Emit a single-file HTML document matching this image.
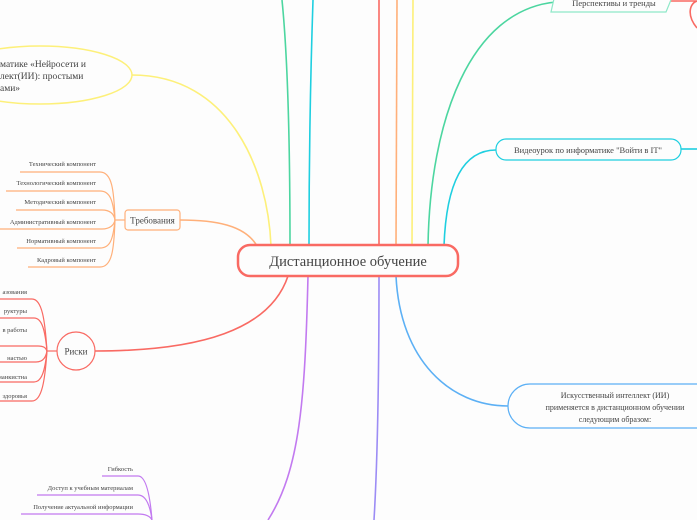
<!DOCTYPE html>
<html><head><meta charset="utf-8"><style>
html,body{margin:0;padding:0;background:#fdfdfd;}
svg{display:block;}
text{font-family:"Liberation Serif","DejaVu Serif",serif;fill:#444;}
</style></head><body>
<svg width="697" height="520" viewBox="0 0 697 520" xmlns="http://www.w3.org/2000/svg">
<rect width="697" height="520" fill="#fdfdfd"/>
<g fill="none" stroke-width="1.6">
<!-- up lines -->
<path d="M290 246 C290 150 288 60 282 0" stroke="#4cd6a0"/>
<path d="M309 246 C309 150 311 60 313 0" stroke="#1fcfe0"/>
<path d="M379 246 L379 0" stroke="#f96a63"/>
<path d="M396 246 C396 150 396 60 397 0" stroke="#ffb07a"/>
<path d="M412 246 C412 150 412 60 413 0" stroke="#fdf07a"/>
<path d="M428 246 C430 120 470 10 556 2" stroke="#4cd6a0"/>
<path d="M444 246 C446 190 460 150 496 150" stroke="#1fcfe0"/>
<path d="M681 149 L697 149" stroke="#1fcfe0"/>
<path d="M668 1 L697 1 M697 1 C690 3 686 15 697 28" stroke="#f96a63"/>
<!-- yellow -->
<path d="M271 246 C268 170 230 75 132 75" stroke="#fdf07a"/>
<!-- orange -->
<path d="M257 246 C245 225 215 220 180 220" stroke="#ffb07a"/>
<g stroke="#ffb07a" stroke-width="1.2">
<path d="M125 220 L115 220"/>
<path d="M20 172 L100 172 C112 172 114 190 115 220"/>
<path d="M6 191 L100 191 C110 191 113 200 115 220"/>
<path d="M16 210 L102 210 C110 210 114 214 115 220"/>
<path d="M0 229 L102 229 C110 229 114 225 115 220"/>
<path d="M17 248 L100 248 C110 248 113 240 115 220"/>
<path d="M28 267 L100 267 C112 267 114 250 115 220"/>
</g>
<!-- red risks -->
<path d="M288 276 C270 330 200 351 95 351" stroke="#f96a63"/>
<g stroke="#f96a63" stroke-width="1.2">
<path d="M57 351 L47 351"/>
<path d="M0 299 L32 299 C42 299 45 320 47 351"/>
<path d="M0 318 L34 318 C42 318 45 330 47 351"/>
<path d="M0 346 L38 346 C44 346 46 348 47 351"/>
<path d="M0 362 L36 362 C44 362 46 356 47 351"/>
<path d="M0 382 L34 382 C42 382 45 370 47 351"/>
<path d="M0 401 L32 401 C42 401 45 380 47 351"/>
</g>
<!-- purple -->
<path d="M308 276 C305 400 300 470 268 520" stroke="#c27af0"/>
<g stroke="#c27af0" stroke-width="1.2">
<path d="M102 476 L138 476 C146 476 150 495 152 520"/>
<path d="M37 495 L138 495 C146 495 150 505 152 520"/>
<path d="M21 514 L138 514 C146 514 150 516 152 520"/>
</g>
<path d="M379 276 C379 400 377 470 374 520" stroke="#9c8cf5"/>
<!-- blue -->
<path d="M396 276 C400 360 450 406 508 406" stroke="#5cb0f5"/>
</g>
<!-- nodes -->
<ellipse cx="40" cy="75" rx="92" ry="29" fill="#fdfdfd" stroke="#fdf07a" stroke-width="1.5"/>
<text x="0" y="67" font-size="9.5">матике «Нейросети и</text>
<text x="0" y="79" font-size="9.5">лект(ИИ): простыми</text>
<text x="0" y="91" font-size="9.5">ами»</text>

<rect x="125" y="210" width="55" height="20" rx="3" fill="#fdfdfd" stroke="#ffb07a" stroke-width="1.2"/>
<text x="152.5" y="223.5" font-size="9" text-anchor="middle">Требования</text>
<g font-size="6.5" text-anchor="end">
<text x="96" y="166">Технический компонент</text>
<text x="96" y="185">Технологический компонент</text>
<text x="96" y="204">Методический компонент</text>
<text x="96" y="224">Административный компонент</text>
<text x="96" y="243">Нормативный компонент</text>
<text x="96" y="262">Кадровый компонент</text>
</g>

<circle cx="76" cy="351" r="19" fill="#fdfdfd" stroke="#f96a63" stroke-width="1.2"/>
<text x="76" y="354.5" font-size="9" text-anchor="middle">Риски</text>
<g font-size="6.5" text-anchor="end">
<text x="27" y="294">азования</text>
<text x="27" y="313">руктуры</text>
<text x="27" y="332">в работы</text>
<text x="27" y="360">настью</text>
<text x="27" y="379">ианкистна</text>
<text x="27" y="398">здоровья</text>
</g>

<g font-size="6.5" text-anchor="end">
<text x="133" y="471">Гибкость</text>
<text x="133" y="490">Доступ к учебным материалам</text>
<text x="133" y="509">Получение актуальной информации</text>
</g>

<rect x="238" y="245" width="220" height="31" rx="12" fill="#fdfdfd" stroke="#f96a63" stroke-width="2.5"/>
<text x="348" y="266" font-size="14.5" text-anchor="middle">Дистанционное обучение</text>

<polygon points="556,-10 675,-10 666,12 551,12" fill="#fdfdfd" stroke="#8ee8c8" stroke-width="1.2"/>
<text x="614" y="6" font-size="8.5" text-anchor="middle">Перспективы и тренды</text>

<rect x="496" y="139" width="185" height="21" rx="10" fill="#fdfdfd" stroke="#1fcfe0" stroke-width="1.2"/>
<text x="588" y="153" font-size="8.5" text-anchor="middle">Видеоурок по информатике "Войти в IT"</text>

<rect x="508" y="384" width="230" height="44" rx="22" fill="#fdfdfd" stroke="#5cb0f5" stroke-width="1.2"/>
<g font-size="8" text-anchor="middle">
<text x="615" y="398">Искусственный интеллект (ИИ)</text>
<text x="615" y="410">применяется в дистанционном обучении</text>
<text x="615" y="422">следующим образом:</text>
</g>
</svg>
</body></html>
